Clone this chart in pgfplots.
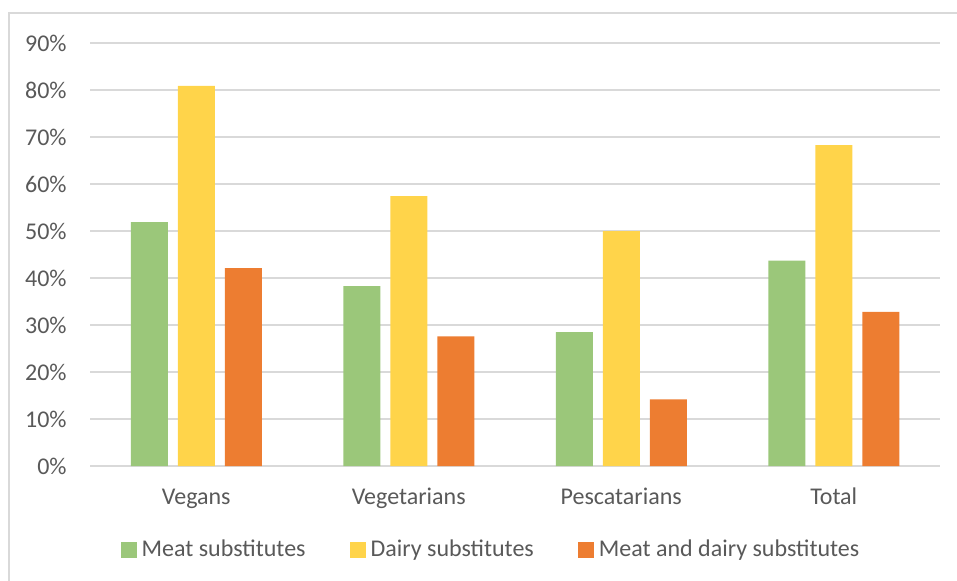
\documentclass[border=0pt]{standalone}
\usepackage{pgfplots}
\pgfplotsset{compat=1.18}
\usepackage{fontspec}
\setmainfont{Carlito}
\definecolor{cgreen}{HTML}{9BC77A}
\definecolor{cyellow}{HTML}{FFD44A}
\definecolor{corange}{HTML}{ED7D31}
\definecolor{ctext}{HTML}{595959}
\definecolor{cgrid}{HTML}{D9D9D9}
\begin{document}
\begin{tikzpicture}[font=\fontsize{12}{14}\selectfont]
\useasboundingbox (0,0) rectangle (478.5pt,290pt);
\draw[cgrid, line width=0.6pt] (4.5pt,-5pt) -- (4.5pt,283.5pt) -- (485pt,283.5pt);
\begin{axis}[
  at={(45pt,57pt)}, anchor=south west,
  scale only axis, width=425pt, height=211.5pt,
  ybar=5pt, bar width=18.5pt,
  xmin=-0.5, xmax=3.5, ymin=0, ymax=90,
  xtick={0,1,2,3},
  xticklabels={Vegans,Vegetarians,Pescatarians,Total},
  ytick={0,10,20,30,40,50,60,70,80,90},
  yticklabels={0\%,10\%,20\%,30\%,40\%,50\%,60\%,70\%,80\%,90\%},
  /pgf/number format/assume math mode=true,
  axis line style={draw=none},
  major tick length=0pt,
  ymajorgrids, grid style={cgrid, line width=0.6pt},
  tick label style={text=ctext, font=\fontsize{12}{14}\selectfont},
  yticklabel style={anchor=east, inner sep=0pt, xshift=-11.5pt},
  xticklabel style={anchor=base, inner sep=0pt, yshift=-19.25pt},
  legend columns=3,
  legend style={draw=none, at={(0.4706,-0.1986)}, anchor=center,
    font=\fontsize{12}{14}\selectfont, text=ctext,
    nodes={inner sep=0pt},
    /tikz/every odd column/.append style={column sep=2.5pt},
    /tikz/every even column/.append style={column sep=22pt}},
  legend image code/.code={\fill[#1] (0pt,-4pt) rectangle (8pt,4pt);},
]
\addplot[fill=cgreen, draw=none] coordinates {(0,51.9) (1,38.3) (2,28.5) (3,43.7)};
\addplot[fill=cyellow, draw=none] coordinates {(0,80.9) (1,57.4) (2,50.0) (3,68.3)};
\addplot[fill=corange, draw=none] coordinates {(0,42.1) (1,27.6) (2,14.2) (3,32.8)};
\legend{Meat substitutes, Dairy substitutes, Meat and dairy substitutes}
\end{axis}
\end{tikzpicture}
\end{document}
